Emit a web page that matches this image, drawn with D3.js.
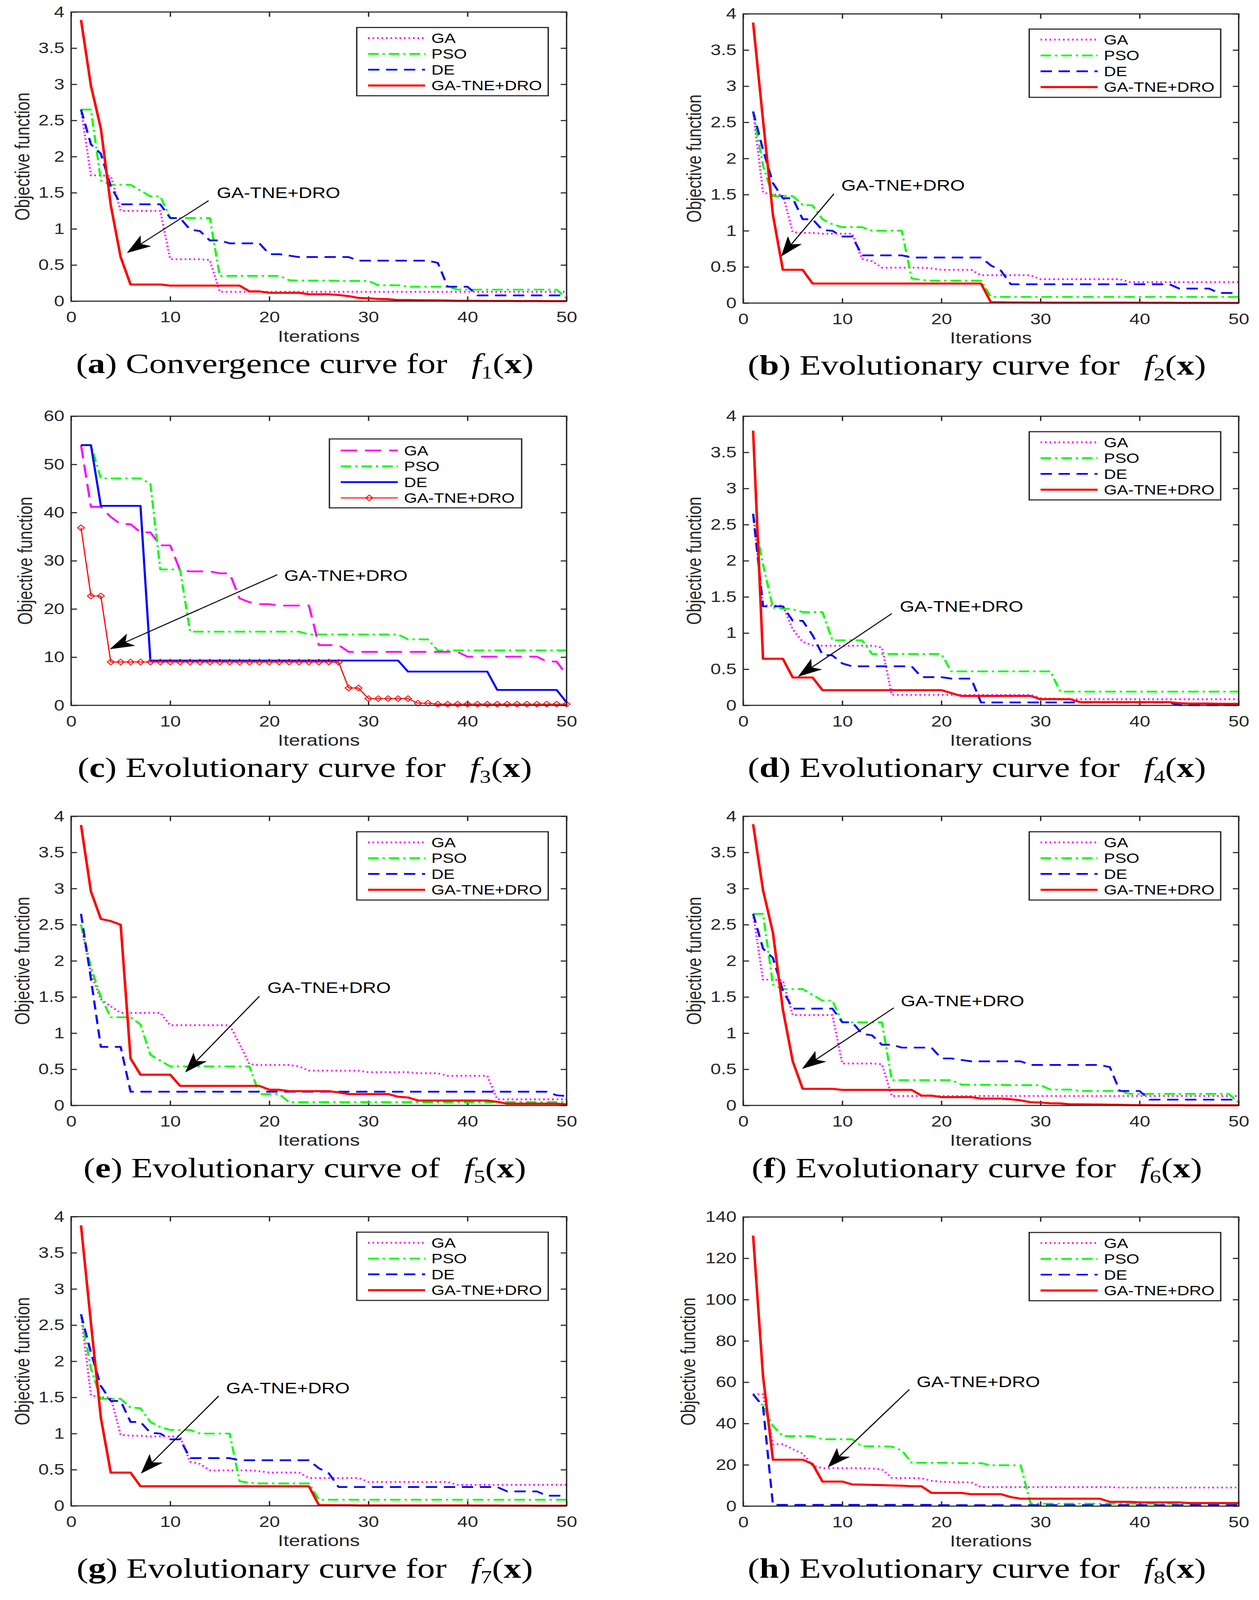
<!DOCTYPE html>
<html><head><meta charset="utf-8">
<script src="https://cdn.jsdelivr.net/npm/d3@7"></script>
<style>html,body{margin:0;padding:0;background:#fff;overflow:hidden} svg{display:block;width:100vw;height:100vh}</style>
</head><body>
<svg id="chart" viewBox="0 0 3222 5063" preserveAspectRatio="none"></svg>
<script>
// ---------------- DATA ----------------
const iterations = d3.range(1, 51);
const xTickVals = [0, 10, 20, 30, 40, 50];
const yTicks4 = [0, 0.5, 1, 1.5, 2, 2.5, 3, 3.5, 4];
const yTicks60 = [0, 10, 20, 30, 40, 50, 60];
const yTicks140 = [0, 20, 40, 60, 80, 100, 120, 140];
const legendLabels = ["GA", "PSO", "DE", "GA-TNE+DRO"];
const annotationText = "GA-TNE+DRO";

// f1 (a) and f6 (f)
const f1GA = [2.65,1.74,1.74,1.73,1.25,1.25,1.25,1.25,1.25,0.58,
 0.58,0.58,0.58,0.57,0.13,0.13,0.13,0.13,0.13,0.13,
 0.13,0.13,0.13,0.13,0.13,0.13,0.13,0.13,0.13,0.13,
 0.13,0.13,0.13,0.13,0.13,0.13,0.13,0.13,0.13,0.13,
 0.13,0.13,0.13,0.13,0.13,0.13,0.13,0.13,0.13,0.13];
const f1PSO = [2.65,2.65,1.67,1.61,1.61,1.61,1.53,1.45,1.45,1.15,
 1.15,1.15,1.15,1.15,0.35,0.35,0.35,0.35,0.35,0.35,
 0.35,0.29,0.285,0.285,0.285,0.285,0.28,0.28,0.28,0.28,
 0.22,0.22,0.22,0.2,0.2,0.2,0.2,0.2,0.16,0.16,
 0.16,0.16,0.16,0.16,0.16,0.16,0.16,0.16,0.16,0.04];
const f1DE = [2.65,2.17,2.04,1.59,1.34,1.34,1.34,1.34,1.34,1.15,
 1.15,0.99,0.97,0.84,0.84,0.8,0.8,0.8,0.8,0.65,
 0.65,0.63,0.61,0.61,0.61,0.61,0.61,0.61,0.56,0.56,
 0.56,0.56,0.56,0.56,0.56,0.56,0.53,0.2,0.2,0.2,
 0.08,0.08,0.08,0.08,0.08,0.08,0.08,0.08,0.08,0.08];
const f1Ours = [3.89,2.98,2.39,1.33,0.61,0.23,0.23,0.23,0.23,0.215,
 0.215,0.215,0.215,0.215,0.215,0.215,0.215,0.135,0.135,0.115,
 0.115,0.115,0.115,0.095,0.095,0.095,0.085,0.07,0.045,0.04,
 0.03,0.028,0.015,0.015,0.013,0.012,0.01,0.008,0.005,0.004,
 0.004,0.003,0.003,0.003,0.002,0.002,0.002,0.001,0.001,0.001];

// f2 (b) and f7 (g)
const f2GA = [2.65,1.53,1.5,1.5,0.98,0.97,0.97,0.96,0.96,0.96,
 0.96,0.61,0.58,0.49,0.49,0.49,0.49,0.49,0.48,0.46,
 0.46,0.46,0.46,0.385,0.385,0.385,0.385,0.385,0.385,0.33,
 0.33,0.33,0.33,0.33,0.33,0.33,0.33,0.33,0.29,0.29,
 0.29,0.29,0.29,0.29,0.29,0.29,0.29,0.29,0.29,0.29];
const f2PSO = [2.65,1.9,1.48,1.48,1.48,1.36,1.35,1.16,1.09,1.05,
 1.05,1.05,1.0,1.0,1.0,1.0,0.34,0.32,0.31,0.31,
 0.31,0.31,0.31,0.31,0.085,0.085,0.085,0.085,0.085,0.085,
 0.085,0.085,0.085,0.085,0.085,0.085,0.085,0.085,0.085,0.085,
 0.085,0.085,0.085,0.085,0.085,0.085,0.085,0.085,0.085,0.085];
const f2DE = [2.65,2.12,1.66,1.45,1.45,1.16,1.16,1.01,1.0,0.92,
 0.92,0.66,0.66,0.66,0.66,0.66,0.63,0.63,0.63,0.63,
 0.63,0.63,0.63,0.63,0.52,0.45,0.26,0.26,0.26,0.26,
 0.26,0.26,0.26,0.26,0.26,0.26,0.26,0.26,0.26,0.26,
 0.26,0.26,0.26,0.2,0.2,0.2,0.2,0.14,0.14,0.14];
const f2Ours = [3.88,2.53,1.22,0.46,0.46,0.46,0.27,0.27,0.27,0.27,
 0.27,0.27,0.27,0.27,0.27,0.27,0.27,0.27,0.27,0.27,
 0.27,0.27,0.27,0.27,0.01,0.01,0.008,0.008,0.006,0.006,
 0.005,0.005,0.005,0.005,0.005,0.005,0.005,0.005,0.005,0.005,
 0.004,0.004,0.004,0.003,0.003,0.003,0.002,0.002,0.002,0.001];

// f3 (c)
const f3GA = [54.0,41.2,41.2,39.1,37.6,37.6,35.9,35.9,33.2,33.2,
 28.0,27.8,27.8,27.8,27.4,27.4,22.2,21.4,21.0,21.0,
 20.7,20.7,20.7,20.7,12.5,12.5,12.5,11.1,11.1,11.1,
 11.1,11.1,11.1,11.1,11.1,11.1,11.1,11.1,11.1,10.1,
 10.1,10.1,10.1,10.1,10.1,10.1,10.1,9.1,9.1,6.3];
const f3PSO = [54,54,47.1,47.1,47.1,47.1,47.1,46.0,28.2,28.2,
 28.2,15.3,15.3,15.3,15.3,15.3,15.3,15.3,15.3,15.3,
 15.3,15.3,15.3,14.7,14.7,14.7,14.7,14.7,14.7,14.7,
 14.7,14.7,14.7,13.7,13.7,13.7,11.4,11.4,11.4,11.4,
 11.4,11.4,11.4,11.4,11.4,11.4,11.4,11.4,11.4,11.4];
const f3DE = [54,54,41.4,41.4,41.4,41.4,41.4,9.3,9.3,9.3,
 9.3,9.3,9.3,9.3,9.3,9.3,9.3,9.3,9.3,9.3,
 9.3,9.3,9.3,9.3,9.3,9.3,9.3,9.3,9.3,9.3,
 9.3,9.3,9.3,7.0,7.0,7.0,7.0,7.0,7.0,7.0,
 7.0,7.0,3.2,3.2,3.2,3.2,3.2,3.2,3.2,0.6];
const f3Ours = [36.85,22.7,22.7,9.0,9.0,9.0,9.0,9.0,9.0,9.0,
 9.0,9.0,9.0,9.0,9.0,9.0,9.0,9.0,9.0,9.0,
 9.0,9.0,9.0,9.0,9.0,9.0,8.95,3.6,3.6,1.4,
 1.4,1.4,1.4,1.4,0.45,0.45,0.25,0.25,0.25,0.25,
 0.25,0.25,0.25,0.25,0.25,0.25,0.25,0.25,0.25,0.25];

// f4 (d)
const f4GA = [2.65,1.38,1.38,1.38,1.05,0.88,0.83,0.825,0.825,0.825,
 0.825,0.825,0.825,0.8,0.145,0.145,0.145,0.145,0.145,0.145,
 0.145,0.145,0.145,0.145,0.145,0.145,0.145,0.145,0.145,0.1,
 0.095,0.09,0.085,0.085,0.085,0.085,0.085,0.085,0.085,0.085,
 0.085,0.085,0.085,0.085,0.085,0.085,0.085,0.085,0.085,0.085];
const f4PSO = [2.65,1.95,1.35,1.34,1.33,1.29,1.29,1.29,0.9,0.9,
 0.9,0.9,0.71,0.71,0.71,0.71,0.71,0.71,0.71,0.71,
 0.47,0.47,0.47,0.47,0.47,0.47,0.47,0.47,0.47,0.47,
 0.47,0.19,0.19,0.19,0.19,0.19,0.19,0.19,0.19,0.19,
 0.19,0.19,0.19,0.19,0.19,0.19,0.19,0.19,0.19,0.19];
const f4DE = [2.65,1.37,1.37,1.37,1.17,1.17,0.97,0.7,0.69,0.58,
 0.54,0.54,0.54,0.54,0.54,0.54,0.54,0.39,0.39,0.39,
 0.37,0.37,0.37,0.04,0.04,0.04,0.04,0.04,0.04,0.04,
 0.04,0.04,0.04,0.04,0.04,0.04,0.04,0.04,0.04,0.04,
 0.04,0.04,0.04,0.002,0.002,0.002,0.002,0.002,0.002,0.002];
const f4Ours = [3.8,0.645,0.645,0.645,0.385,0.385,0.385,0.21,0.21,0.21,
 0.21,0.21,0.21,0.21,0.21,0.21,0.21,0.21,0.21,0.21,
 0.17,0.13,0.13,0.13,0.13,0.13,0.13,0.13,0.13,0.085,
 0.085,0.085,0.085,0.045,0.045,0.045,0.045,0.045,0.045,0.045,
 0.045,0.045,0.045,0.03,0.025,0.025,0.025,0.022,0.02,0.02];

// f5 (e)
const f5GA = [2.5,1.83,1.47,1.37,1.28,1.28,1.28,1.28,1.28,1.11,
 1.11,1.11,1.11,1.11,1.11,1.11,0.85,0.57,0.56,0.56,
 0.56,0.56,0.54,0.48,0.48,0.48,0.48,0.48,0.48,0.46,
 0.46,0.46,0.46,0.46,0.445,0.445,0.445,0.41,0.41,0.41,
 0.41,0.41,0.085,0.085,0.085,0.085,0.085,0.085,0.085,0.085];
const f5PSO = [2.5,1.91,1.5,1.22,1.22,1.22,1.12,0.7,0.62,0.54,
 0.54,0.54,0.54,0.54,0.54,0.54,0.54,0.54,0.156,0.156,
 0.156,0.045,0.045,0.045,0.045,0.045,0.045,0.045,0.045,0.045,
 0.045,0.045,0.045,0.045,0.045,0.045,0.045,0.045,0.045,0.045,
 0.045,0.045,0.045,0.045,0.045,0.045,0.045,0.045,0.045,0.045];
const f5DE = [2.65,1.75,0.81,0.81,0.81,0.19,0.19,0.19,0.19,0.19,
 0.19,0.19,0.19,0.19,0.19,0.19,0.19,0.19,0.19,0.19,
 0.19,0.19,0.19,0.19,0.19,0.19,0.19,0.19,0.19,0.19,
 0.19,0.19,0.19,0.19,0.19,0.19,0.19,0.19,0.19,0.19,
 0.19,0.19,0.19,0.19,0.19,0.19,0.19,0.19,0.14,0.13];
const f5Ours = [3.88,2.96,2.58,2.55,2.5,0.65,0.425,0.425,0.425,0.425,
 0.27,0.27,0.27,0.27,0.27,0.27,0.27,0.27,0.27,0.217,
 0.217,0.197,0.197,0.197,0.197,0.197,0.18,0.157,0.157,0.157,
 0.157,0.157,0.12,0.11,0.068,0.068,0.068,0.068,0.068,0.068,
 0.068,0.068,0.05,0.024,0.024,0.024,0.024,0.024,0.024,0.015];

// f6 (f) repeats the f1 curves, f7 (g) repeats the f2 curves
const f6GA = f1GA, f6PSO = f1PSO, f6DE = f1DE, f6Ours = f1Ours;
const f7GA = f2GA, f7PSO = f2PSO, f7DE = f2DE, f7Ours = f2Ours;

// f8 (h)
const f8GA = [54.2,54.2,30.0,30.0,27.6,25.4,19.6,18.4,18.4,18.4,
 18.4,18.3,18.2,17.8,13.7,13.6,13.6,13.5,12.3,11.8,
 11.7,11.6,11.5,9.2,9.2,9.2,9.2,9.2,9.2,9.2,
 9.2,9.2,9.2,9.2,9.2,9.2,9.2,9.0,9.0,9.0,
 9.0,9.0,9.0,9.0,9.0,9.0,9.0,9.0,9.0,9.0];
const f8PSO = [54.2,48.6,38.8,33.9,33.9,33.9,33.9,32.4,32.4,32.4,
 32.4,29.0,29.0,29.0,28.8,27.0,21.0,21.0,21.0,21.0,
 20.9,20.8,20.8,20.8,19.8,19.8,19.8,19.8,1.2,1.2,
 1.2,1.2,1.2,1.2,1.2,1.2,1.2,1.2,1.2,1.2,
 1.2,1.2,1.2,1.2,1.2,1.2,1.2,1.2,1.2,1.2];
const f8DE = [54.2,48.2,0.6,0.6,0.6,0.6,0.6,0.6,0.6,0.6,
 0.6,0.6,0.6,0.6,0.6,0.6,0.6,0.6,0.6,0.45,
 0.45,0.45,0.45,0.45,0.45,0.45,0.45,0.45,0.45,0.45,
 0.45,0.45,0.45,0.45,0.45,0.45,0.45,0.45,0.45,0.45,
 0.45,0.45,0.45,0.45,0.45,0.45,0.45,0.45,0.45,0.45];
const f8Ours = [131.0,63.0,22.5,22.5,22.5,22.5,20.4,11.9,11.9,11.9,
 10.5,10.4,10.3,10.2,10.0,9.9,9.6,9.6,6.4,6.4,
 6.4,6.4,5.8,5.8,5.8,5.8,4.4,3.6,3.6,3.6,
 3.6,3.6,3.6,3.6,3.6,3.6,2.1,2.1,2.1,1.8,
 1.8,1.8,1.8,1.8,1.5,1.5,1.5,1.5,1.5,1.5];

// annotation anchors in data units: [label left x, label centre y], arrow start, arrow tip
const annA = {label:[14.7,1.50], from:[13.87,1.39], to:[5.66,0.67]};
const annB = {label:[9.9,1.63], from:[9.15,1.51], to:[3.86,0.65]};
const annC = {label:[21.5,26.96], from:[20.8,27.1], to:[3.94,11.7]};
const annD = {label:[15.8,1.37], from:[15.0,1.27], to:[5.56,0.40]};
const annE = {label:[19.8,1.63], from:[19.0,1.51], to:[11.54,0.46]};
const annF = {label:[15.9,1.45], from:[15.2,1.35], to:[5.97,0.51]};
const annG = {label:[15.65,1.63], from:[14.9,1.52], to:[7.07,0.45]};
const annH = {label:[17.5,60.3], from:[16.77,56.5], to:[8.56,18.9]};

// ---------------- LAYOUT / STYLE ----------------
const W = 1268, H = 915;
const AX = "#262626";
const SANS = '"Liberation Sans", Arial, Helvetica, sans-serif';
const SERIF = '"Liberation Serif", "Times New Roman", serif';

const panels = [
 {letter:"a", left:182, top:38, yMax:4, yTicks:yTicks4, series:[f1GA,f1PSO,f1DE,f1Ours], legend:[731,49,490,216,33.5], ylabOff:125, ann:annA, capText:"Convergence curve for", sub:"1"},
 {letter:"b", left:1902, top:44, yMax:4, yTicks:yTicks4, series:[f2GA,f2PSO,f2DE,f2Ours], legend:[732,48,490,216,33.5], ylabOff:126, ann:annB, capText:"Evolutionary curve for", sub:"2"},
 {letter:"c", left:182, top:1317, yMax:60, yTicks:yTicks60, series:[f3GA,f3PSO,f3DE,f3Ours], legend:[661,72,492,218,36.6], ylabOff:118, ann:annC, capText:"Evolutionary curve for", sub:"3", special:true},
 {letter:"d", left:1902, top:1317, yMax:4, yTicks:yTicks4, series:[f4GA,f4PSO,f4DE,f4Ours], legend:[732,49,490,216,33.5], ylabOff:126, ann:annD, capText:"Evolutionary curve for", sub:"4"},
 {letter:"e", left:182, top:2583, yMax:4, yTicks:yTicks4, series:[f5GA,f5PSO,f5DE,f5Ours], legend:[731,49,490,216,33.5], ylabOff:125, ann:annE, capText:"Evolutionary curve of", sub:"5"},
 {letter:"f", left:1902, top:2583, yMax:4, yTicks:yTicks4, series:[f6GA,f6PSO,f6DE,f6Ours], legend:[732,49,490,216,33.5], ylabOff:126, ann:annF, capText:"Evolutionary curve for", sub:"6"},
 {letter:"g", left:182, top:3850, yMax:4, yTicks:yTicks4, series:[f7GA,f7PSO,f7DE,f7Ours], legend:[731,49,490,216,33.5], ylabOff:125, ann:annG, capText:"Evolutionary curve for", sub:"7"},
 {letter:"h", left:1902, top:3851, yMax:140, yTicks:yTicks140, series:[f8GA,f8PSO,f8DE,f8Ours], legend:[732,49,490,216,33.5], ylabOff:141, ann:annH, capText:"Evolutionary curve for", sub:"8"}
];

const baseStyles = [
 {color:"#ff00ff", dash:"4 7.5", width:5.5},
 {color:"#00ff00", dash:"27 10 6 10", width:5.5},
 {color:"#0000ff", dash:"29 17", width:5.5},
 {color:"#ff0000", dash:null, width:6.5}
];
const cStyles = [
 {color:"#ff00ff", dash:"42 20", width:5.5},
 {color:"#00ff00", dash:"27 10 6 10", width:5.5},
 {color:"#0000ff", dash:null, width:5.5},
 {color:"#ff0000", dash:null, width:3, marker:true}
];

const svg = d3.select("#chart");
svg.append("rect").attr("width",3222).attr("height",5063).attr("fill","#fff");

const diamond = d3.symbol().type(d3.symbolSquare).size(160);

function styleAxis(g) {
  g.select(".domain").remove();
  g.selectAll(".tick line").attr("stroke", AX).attr("stroke-width", 3.5);
  g.selectAll(".tick text").attr("fill", AX).attr("font-family", SANS).attr("font-size", 48);
}

panels.forEach(p => {
  const g = svg.append("g");
  const x = d3.scaleLinear().domain([0, 50]).range([p.left, p.left + W]);
  const y = d3.scaleLinear().domain([0, p.yMax]).range([p.top + H, p.top]);
  const bottom = p.top + H;
  const styles = p.special ? cStyles : baseStyles;

  // axes (MATLAB-style inward ticks on all four sides)
  g.append("g").attr("transform", `translate(0,${bottom})`)
    .call(d3.axisBottom(x).tickValues(xTickVals).tickFormat(d3.format("~g")).tickSizeInner(-15).tickSizeOuter(0).tickPadding(33))
    .call(styleAxis);
  g.append("g").attr("transform", `translate(0,${p.top})`)
    .call(d3.axisTop(x).tickValues(xTickVals).tickFormat("").tickSizeInner(-15).tickSizeOuter(0))
    .call(styleAxis);
  g.append("g").attr("transform", `translate(${p.left},0)`)
    .call(d3.axisLeft(y).tickValues(p.yTicks).tickFormat(d3.format("~g")).tickSizeInner(-15).tickSizeOuter(0).tickPadding(17))
    .call(styleAxis);
  g.append("g").attr("transform", `translate(${p.left + W},0)`)
    .call(d3.axisRight(y).tickValues(p.yTicks).tickFormat("").tickSizeInner(-15).tickSizeOuter(0))
    .call(styleAxis);

  // series
  const line = d3.line().x((d, i) => x(iterations[i])).y(d => y(d));
  p.series.forEach((vals, k) => {
    const s = styles[k];
    g.append("path").datum(vals)
      .attr("d", line)
      .attr("fill", "none")
      .attr("stroke", s.color)
      .attr("stroke-width", s.width)
      .attr("stroke-dasharray", s.dash)
      .attr("stroke-linejoin", "round");
    if (s.marker) {
      g.selectAll(null).data(vals).join("path")
        .attr("d", diamond)
        .attr("transform", (d, i) => `translate(${x(iterations[i])},${y(d)}) rotate(45)`)
        .attr("fill", "none").attr("stroke", s.color).attr("stroke-width", 2.5);
    }
  });

  // box
  g.append("rect").attr("x", p.left).attr("y", p.top).attr("width", W).attr("height", H)
    .attr("fill", "none").attr("stroke", AX).attr("stroke-width", 3.5);

  // annotation: arrow + label
  const a = p.ann;
  const sx = x(a.from[0]), sy = y(a.from[1]), tx = x(a.to[0]), ty = y(a.to[1]);
  const len = Math.hypot(tx - sx, ty - sy);
  const ux = (tx - sx) / len, uy = (ty - sy) / len, nx = -uy, ny = ux;
  const L = 60, Wd = 21, notch = 44;
  g.append("line").attr("x1", sx).attr("y1", sy)
    .attr("x2", tx - ux * (notch - 2)).attr("y2", ty - uy * (notch - 2))
    .attr("stroke", "#000").attr("stroke-width", 3);
  const head = d3.path();
  head.moveTo(tx, ty);
  head.lineTo(tx - ux * L + nx * Wd, ty - uy * L + ny * Wd);
  head.lineTo(tx - ux * notch, ty - uy * notch);
  head.lineTo(tx - ux * L - nx * Wd, ty - uy * L - ny * Wd);
  head.closePath();
  g.append("path").attr("d", head.toString()).attr("fill", "#000").attr("stroke", "#000").attr("stroke-width", 1);
  g.append("text").attr("x", x(a.label[0])).attr("y", y(a.label[1])).attr("dy", "0.36em")
    .attr("font-family", SANS).attr("font-size", 48).attr("fill", "#000").text(annotationText);

  // legend
  const [lx, ly, lw, lh, r0] = p.legend;
  const L0 = p.left + lx, T0 = p.top + ly;
  const lg = g.append("g");
  lg.append("rect").attr("x", L0).attr("y", T0).attr("width", lw).attr("height", lh)
    .attr("fill", "#fff").attr("stroke", AX).attr("stroke-width", 3.5);
  legendLabels.forEach((lab, k) => {
    const s = styles[k];
    const yy = T0 + r0 + k * 50;
    lg.append("line").attr("x1", L0 + 29).attr("x2", L0 + 175).attr("y1", yy).attr("y2", yy)
      .attr("stroke", s.color).attr("stroke-width", s.width).attr("stroke-dasharray", s.dash);
    if (s.marker) {
      lg.append("path").attr("d", diamond).attr("transform", `translate(${L0 + 102},${yy}) rotate(45)`)
        .attr("fill", "none").attr("stroke", s.color).attr("stroke-width", 2.5);
    }
    lg.append("text").attr("x", L0 + 191).attr("y", yy).attr("dy", "0.36em")
      .attr("font-family", SANS).attr("font-size", 43).attr("fill", "#000").text(lab);
  });

  // axis labels
  g.append("text").attr("x", p.left + W / 2).attr("y", bottom + 128).attr("text-anchor", "middle")
    .attr("font-family", SANS).attr("font-size", 51).attr("fill", AX).text("Iterations");
  g.append("text").attr("transform", `translate(${p.left - p.ylabOff},${p.top + H / 2}) rotate(-90)`)
    .attr("text-anchor", "middle").attr("dy", "0.36em")
    .attr("font-family", SANS).attr("font-size", 51).attr("fill", AX).text("Objective function");

  // caption
  const t = g.append("text").attr("x", p.left + W / 2 - 36).attr("y", bottom + 227)
    .attr("text-anchor", "middle").attr("font-family", SERIF).attr("font-size", 90).attr("fill", "#000");
  t.append("tspan").text("(");
  t.append("tspan").attr("font-weight", "bold").text(p.letter);
  t.append("tspan").text(") " + p.capText);
  t.append("tspan").attr("dx", 62).attr("font-style", "italic").text("f");
  t.append("tspan").attr("font-size", 58).attr("dy", 18).text(p.sub);
  t.append("tspan").attr("dy", -18).text("(");
  t.append("tspan").attr("font-weight", "bold").text("x");
  t.append("tspan").text(")");
});
</script>
</body></html>
